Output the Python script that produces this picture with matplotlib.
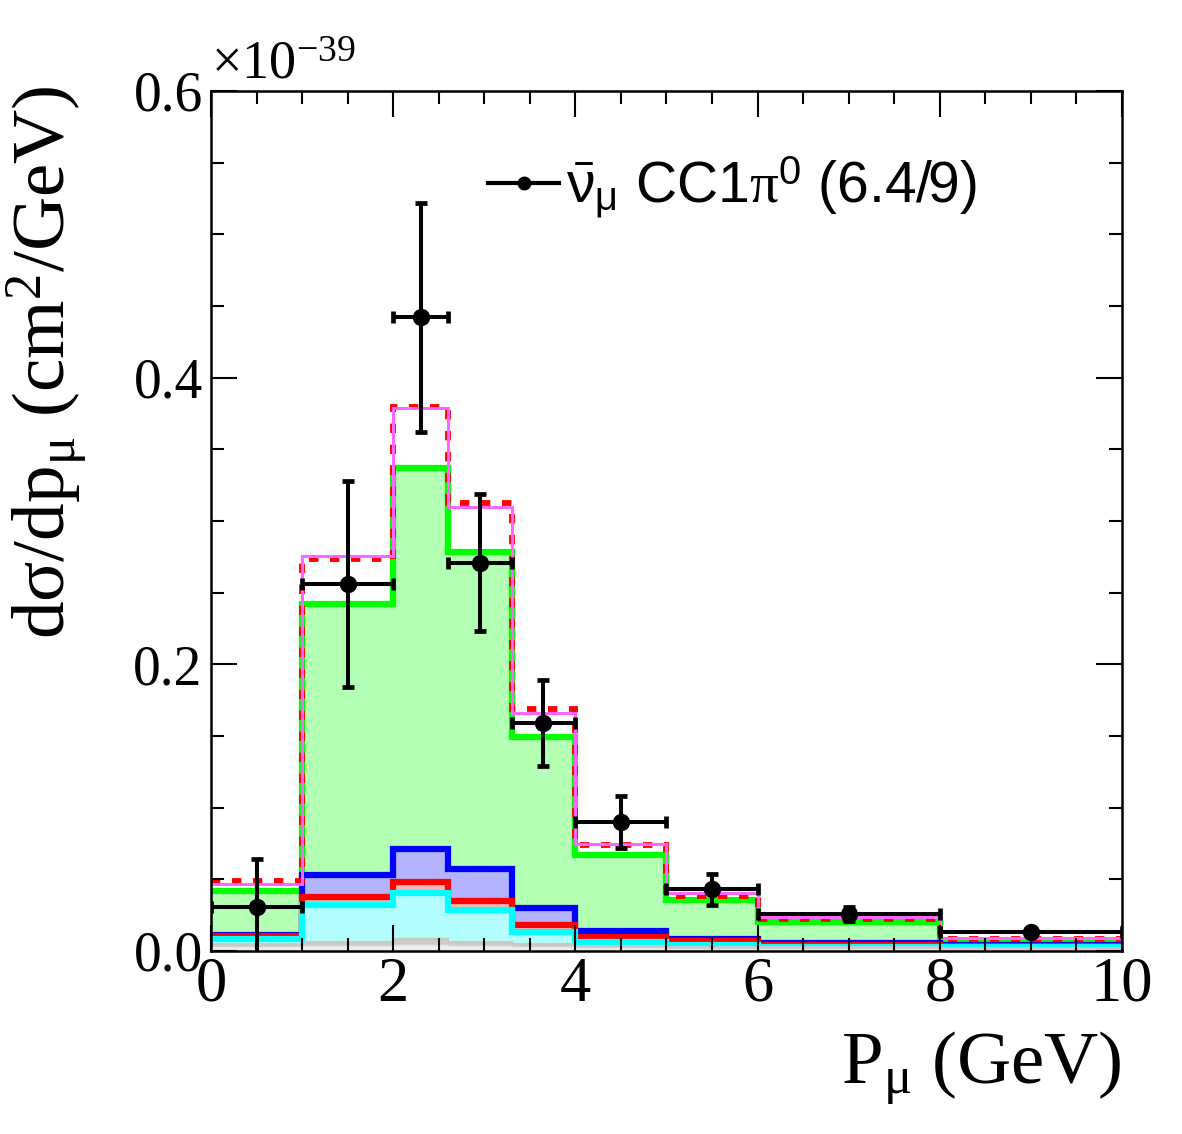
import matplotlib
matplotlib.use('Agg')
from matplotlib import pyplot as plt
from matplotlib.lines import Line2D
from matplotlib.ticker import MultipleLocator, FormatStrFormatter

plt.rcParams['mathtext.fontset'] = 'custom'
plt.rcParams['mathtext.rm'] = 'Liberation Serif'
plt.rcParams['mathtext.it'] = 'Liberation Serif:italic'
plt.rcParams['mathtext.sf'] = 'Liberation Sans'
plt.rcParams['font.family'] = 'Liberation Serif'

# bin edges in GeV, values in units of 1e-39 cm^2/GeV
edges = [0, 1, 2, 2.6, 3.3, 4, 5, 6, 8, 10]
centers = [0.5, 1.5, 2.3, 2.95, 3.65, 4.5, 5.5, 7, 9]
data = [0.031, 0.256, 0.442, 0.271, 0.159, 0.090, 0.043, 0.026, 0.0133]
data_err = [0.033, 0.072, 0.080, 0.048, 0.030, 0.018, 0.011, 0.005, 0.002]

# stacked MC components (cumulative tops)
green_top = [0.042, 0.242, 0.337, 0.278, 0.149, 0.067, 0.0356, 0.020, 0.0063]
blue_top = [0.011, 0.053, 0.071, 0.057, 0.030, 0.014, 0.0084, 0.0056, 0.0042]
red_top = [0.0105, 0.0377, 0.048, 0.035, 0.018, 0.0100, 0.0070, 0.0045, 0.0035]
cyan_top = [0.0084, 0.032, 0.0405, 0.0286, 0.0133, 0.0063, 0.0040, 0.0030, 0.0025]
yellow_top = [0.0050, 0.0063, 0.0092, 0.0063, 0.0050, 0.0035, 0.0030, 0.0025, 0.0020]
gray_top = [0.0050, 0.0063, 0.0085, 0.0063, 0.0050, 0.0035, 0.0030, 0.0025, 0.0020]
ltgray_top = [0.0030, 0.0035, 0.0040, 0.0035, 0.0030, 0.0020, 0.0015, 0.0012, 0.0010]

total_solid = [0.0467, 0.2757, 0.379, 0.310, 0.166, 0.0747, 0.0405, 0.0237, 0.0090]
total_dashed = [0.0488, 0.2735, 0.3796, 0.3126, 0.169, 0.074, 0.0384, 0.0223, 0.0085]

fig = plt.figure(figsize=(11.82, 11.34), dpi=100)
ax = fig.add_axes([0.1785, 0.1614, 0.7707, 0.7584])

stack = [(green_top, '#b3ffb3', '#00ff00', 4.5),
         (blue_top, '#b3b3ff', '#0000ff', 4.5),
         (red_top, '#ffb3b3', '#ff0000', 4.5),
         (cyan_top, '#b3ffff', '#00ffff', 4.5),
         (yellow_top, '#ffffcc', '#ffff00', 1.5),
         (gray_top, '#cccccc', '#c8c8c8', 1.5),
         (ltgray_top, '#eeeeee', '#e6e6e6', 1.0)]
for vals, fc, lc, lw in stack:
    ax.stairs(vals, edges, fill=True, color=fc, lw=0)
    ax.stairs(vals, edges, baseline=None, color=lc, lw=lw)

ax.stairs(total_dashed, edges, baseline=None, color='red', lw=4.2, linestyle=(0, (1.6, 2.0)))
ax.stairs(total_solid, edges, baseline=None, color='#ff66ff', lw=2.2)

xerr = [[c - edges[i] for i, c in enumerate(centers)],
        [edges[i + 1] - c for i, c in enumerate(centers)]]
ax.errorbar(centers, data, yerr=data_err, xerr=xerr, fmt='o', color='black',
            ms=11.5, elinewidth=2.9, capsize=4, capthick=3.4, zorder=10)

ax.set_xlim(0, 10)
ax.set_ylim(0, 0.6)
ax.xaxis.set_major_locator(MultipleLocator(2))
ax.xaxis.set_minor_locator(MultipleLocator(0.5))
ax.yaxis.set_major_locator(MultipleLocator(0.2))
ax.yaxis.set_minor_locator(MultipleLocator(0.05))
ax.yaxis.set_major_formatter(FormatStrFormatter('%.1f'))
ax.tick_params(which='both', direction='in', top=True, right=True, width=1.5)
ax.tick_params(which='major', length=19)
ax.tick_params(which='minor', length=9.5)
ax.tick_params(axis='x', labelsize=45, pad=4)
ax.tick_params(axis='y', labelsize=40, pad=6)
for sp in ax.spines.values():
    sp.set_linewidth(1.8)

ax.text(0.0, 1.0, r'$\times10^{-39}$', transform=ax.transAxes, fontsize=39,
        ha='left', va='bottom')

fig.text(1122 / 1182, 1 - 1068 / 1134, r'$\mathrm{P_{\mu}\ (GeV)}$', fontsize=54,
         ha='right', va='center')
fig.text(46 / 1182, 1 - 85 / 1134, r'$\mathrm{d\sigma/dp_{\mu}\ (cm^{2}/GeV)}$', fontsize=54,
         rotation=90, ha='center', va='top')

handle = Line2D([], [], color='black', lw=3, marker='o', ms=9)
ax.legend([handle], [r'$\bar{\mathsf{\nu}}_{\mathsf{\mu}}$ CC1$\mathrm{\pi}^{\mathsf{0}}$ (6.4/9)'],
          loc='center left', bbox_to_anchor=(0.304, 0.888), frameon=False,
          borderpad=0, borderaxespad=0, handlelength=1.25, handletextpad=0.12,
          prop={'family': 'Liberation Sans', 'size': 41})

plt.savefig('out.png', dpi=100)
